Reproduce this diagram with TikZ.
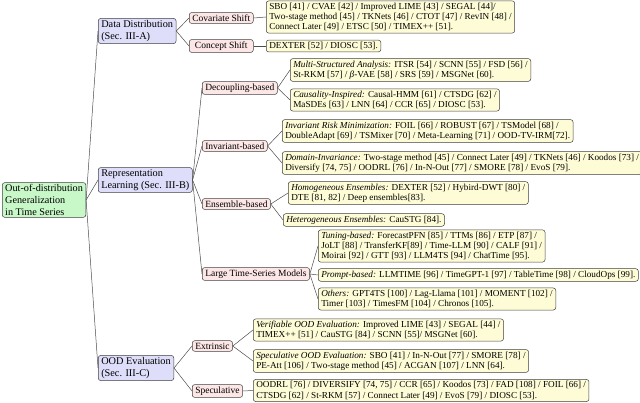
\documentclass[tikz,border=0pt]{standalone}
\usepackage{fontspec}
\setmainfont{Liberation Serif}
\definecolor{rootc}{RGB}{200,247,200}
\definecolor{secc}{RGB}{222,222,250}
\definecolor{catc}{RGB}{252,230,230}
\definecolor{leafc}{RGB}{254,252,214}
\begin{document}
\begin{tikzpicture}[x=1pt,y=-1pt,
  base/.style={draw=black!75, line width=0.5pt, rounded corners=2.5pt, anchor=west, align=left, inner xsep=3pt, inner ysep=2.1pt},
  rootbox/.style={base, fill=rootc, font=\fontsize{10.2}{11.6}\selectfont},
  secbox/.style={base, fill=secc, font=\fontsize{10.3}{11.6}\selectfont},
  catbox/.style={base, fill=catc, font=\fontsize{9.5}{10}\selectfont},
  leafbox/.style={base, fill=leafc, font=\fontsize{9.2}{10.2}\selectfont},
  conn/.style={draw=black!70, line width=0.5pt}]
\useasboundingbox (0,0) rectangle (640,403);

\node[rootbox] (root) at (2,200) {Out-of-distribution\\Generalization\\in Time Series};

\node[secbox] (dd) at (98,31) {Data Distribution\\(Sec. III-A)};
\node[secbox] (rl) at (98,180) {Representation\\Learning (Sec. III-B)};
\node[secbox] (oe) at (98,368) {OOD Evaluation\\(Sec. III-C)};

\node[catbox, minimum width=64pt] (cov) at (189,18) {Covariate Shift};
\node[catbox, minimum width=64pt] (con) at (189,46) {Concept Shift};
\node[catbox] (dec) at (202,88) {Decoupling-based};
\node[catbox] (inv) at (202,146) {Invariant-based};
\node[catbox] (ens) at (202,204) {Ensemble-based};
\node[catbox] (ltsm) at (202,274) {Large Time-Series Models};
\node[catbox] (ext) at (192,346) {Extrinsic};
\node[catbox] (spe) at (192,391) {Speculative};

\node[leafbox] (l1) at (266,17) {SBO [41] / CVAE [42] / Improved LIME [43] / SEGAL [44]/\\Two-stage method [45] / TKNets [46] / CTOT [47] / RevIN [48] /\\Connect Later [49] / ETSC [50] / TIMEX++ [51].};
\node[leafbox] (l2) at (266,46) {DEXTER [52] / DIOSC [53].};
\node[leafbox] (l3) at (290,70) {\textit{Multi-Structured Analysis:} ITSR [54] / SCNN [55] / FSD [56] /\\St-RKM [57] / \textit{β}-VAE [58] / SRS [59] / MSGNet [60].};
\node[leafbox] (l4) at (290,100) {\textit{Causality-Inspired:} Causal-HMM [61] / CTSDG [62] /\\MaSDEs [63] / LNN [64] / CCR [65] / DIOSC [53].};
\node[leafbox] (l5) at (282,131) {\textit{Invariant Risk Minimization:} FOIL [66] / ROBUST [67] / TSModel [68] /\\DoubleAdapt [69] / TSMixer [70] / Meta-Learning [71] / OOD-TV-IRM[72].};
\node[leafbox] (l6) at (282,163) {\textit{Domain-Invariance:} Two-stage method [45] / Connect Later [49] / TKNets [46] / Koodos [73] /\\Diversify [74, 75] / OODRL [76] / In-N-Out [77] / SMORE [78] / EvoS [79].};
\node[leafbox] (l7) at (288,193) {\textit{Homogeneous Ensembles:} DEXTER [52] / Hybird-DWT [80] /\\DTE [81, 82] / Deep ensembles[83].};
\node[leafbox] (l8) at (283,220) {\textit{Heterogeneous Ensembles:} CauSTG [84].};
\node[leafbox] (l9) at (318,246) {\textit{Tuning-based:} ForecastPFN [85] / TTMs [86] / ETP [87] /\\JoLT [88] / TransferKF[89] / Time-LLM [90] / CALF [91] /\\Moirai [92] / GTT [93] / LLM4TS [94] / ChatTime [95].};
\node[leafbox] (l10) at (318,275) {\textit{Prompt-based:} LLMTIME [96] / TimeGPT-1 [97] / TableTime [98] / CloudOps [99].};
\node[leafbox] (l11) at (318,299) {\textit{Others:} GPT4TS [100] / Lag-Llama [101] / MOMENT [102] /\\Timer [103] / TimesFM [104] / Chronos [105].};
\node[leafbox] (l12) at (253,330) {\textit{Verifiable OOD Evaluation:} Improved LIME [43] / SEGAL [44] /\\TIMEX++ [51] / CauSTG [84] / SCNN [55]/ MSGNet [60].};
\node[leafbox] (l13) at (253,361) {\textit{Speculative OOD Evaluation:} SBO [41] / In-N-Out [77] / SMORE [78] /\\PE-Att [106] / Two-stage method [45] / ACGAN [107] / LNN [64].};
\node[leafbox] (l14) at (253,390.5) {OODRL [76] / DIVERSIFY [74, 75] / CCR [65] / Koodos [73] / FAD [108] / FOIL [66] /\\CTSDG [62] / St-RKM [57] / Connect Later [49] / EvoS [79] / DIOSC [53].};

\foreach \a/\b in {root/dd, root/rl, root/oe,
  dd/cov, dd/con, rl/dec, rl/inv, rl/ens, rl/ltsm, oe/ext, oe/spe,
  cov/l1, con/l2, dec/l3, dec/l4, inv/l5, inv/l6, ens/l7, ens/l8,
  ltsm/l9, ltsm/l10, ltsm/l11, ext/l12, ext/l13, spe/l14}
  \draw[conn] (\a.east) -- (\b.west);
\end{tikzpicture}
\end{document}
